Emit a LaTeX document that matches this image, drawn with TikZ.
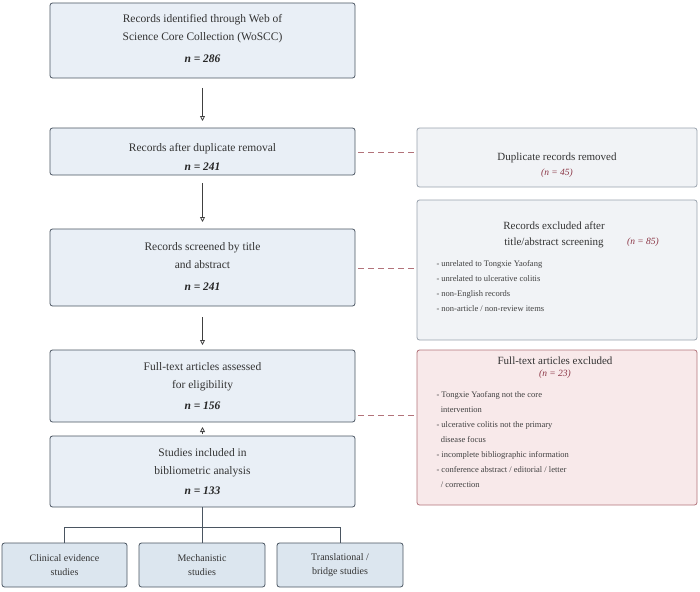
\documentclass[tikz,border=0pt]{standalone}
\usepackage{fontspec}
\setmainfont{Liberation Serif}
\usetikzlibrary{arrows.meta}
\definecolor{mfill}{HTML}{E9EFF6}
\definecolor{mdraw}{HTML}{4A5561}
\definecolor{gfill}{HTML}{F1F3F6}
\definecolor{gdraw}{HTML}{99A2AD}
\definecolor{rfill}{HTML}{F8E9EA}
\definecolor{rdraw}{HTML}{B2737A}
\definecolor{nred}{HTML}{8A3444}
\definecolor{bfill}{HTML}{DCE6EF}
\begin{document}
\begin{tikzpicture}[x=1pt,y=-1pt,
  box/.style={draw=#1,rounded corners=2.5pt,line width=0.8pt},
  main/.style={fill=mfill,box=mdraw},
  txt/.style={align=center,font=\fontsize{11.5}{18}\selectfont,text=black!80},
  lst/.style={align=left,font=\fontsize{8.5}{15}\selectfont,text=black!75,anchor=north west},
  nn/.style={font=\fontsize{11.5}{13}\selectfont\bfseries\itshape,text=black!85},
  rn/.style={font=\fontsize{9.5}{11}\selectfont\itshape,text=nred},
  arr/.style={line width=0.8pt,draw=black!75,-{Triangle[open,length=5pt,width=5pt]}},
  dashcon/.style={draw=rdraw,dash pattern=on 6pt off 4pt,line width=0.8pt},
  tree/.style={draw=mdraw,line width=0.8pt}]
\useasboundingbox (0,0) rectangle (700,591);
% main boxes
\draw[main] (50,3) rectangle (355,78);
\draw[main] (50,128) rectangle (355,175);
\draw[main] (50,229) rectangle (355,306);
\draw[main] (50,350) rectangle (355,422);
\draw[main] (50,436) rectangle (355,507);
\node[txt] (t1) at (202.5,29) {Records identified through Web of\\Science Core Collection (WoSCC)};
\node[nn] (n1) at (202.5,59) {n = 286};
\node[txt] (t2) at (202.5,149) {Records after duplicate removal};
\node[nn] (n2) at (202.5,167) {n = 241};
\node[txt] (t3) at (202.5,256) {Records screened by title\\and abstract};
\node[nn] (n3) at (202.5,287) {n = 241};
\node[txt] (t4) at (202.5,377) {Full-text articles assessed\\for eligibility};
\node[nn] (n4) at (202.5,406) {n = 156};
\node[txt] (t5) at (202.5,463) {Studies included in\\bibliometric analysis};
\node[nn] (n5) at (202.5,491) {n = 133};
\coordinate (a1) at (202.5,88); \coordinate (b1) at (202.5,121);
\coordinate (a2) at (202.5,183); \coordinate (b2) at (202.5,222);
\coordinate (a3) at (202.5,317); \coordinate (b3) at (202.5,345);
\coordinate (a4) at (202.5,434); \coordinate (b4) at (202.5,427);
\draw[arr] (a1) -- (b1);
\draw[arr] (a2) -- (b2);
\draw[arr] (a3) -- (b3);
\draw[arr] (a4) -- (b4);
% bottom
\draw[fill=bfill,box=mdraw] (2,543) rectangle (127,587);
\draw[fill=bfill,box=mdraw] (139,543) rectangle (265,587);
\draw[fill=bfill,box=mdraw] (277,543) rectangle (403,587);
\node[txt,font=\fontsize{10}{14}\selectfont] (c1) at (64.5,565) {Clinical evidence\\studies};
\node[txt,font=\fontsize{10}{14}\selectfont] (c2) at (202,565) {Mechanistic\\studies};
\node[txt,font=\fontsize{10}{14}\selectfont] (c3) at (340,565) {Translational /\\bridge studies};
\coordinate (s) at (202.5,507); \coordinate (j) at (202.5,527);
\coordinate (l) at (64.5,527); \coordinate (r) at (340,527);
\coordinate (le) at (64.5,543); \coordinate (me) at (202.5,543); \coordinate (re) at (340,543);
\draw[tree] (s) -- (j); \draw[tree] (le) -- (l) -- (r) -- (re); \draw[tree] (j) -- (me);
% right boxes
\draw[fill=gfill,box=gdraw] (417,128) rectangle (697,187);
\draw[fill=gfill,box=gdraw] (417,200) rectangle (697,340);
\draw[fill=rfill,box=rdraw] (417,350) rectangle (697,505);
\node[txt,font=\fontsize{11}{14}\selectfont] (r1) at (557,158) {Duplicate records removed};
\node[rn] (rn1) at (557,173) {(n = 45)};
\node[txt,font=\fontsize{11}{16}\selectfont] (r2) at (554,235) {Records excluded after\\title/abstract screening};
\node[rn] (rn2) at (643,242) {(n = 85)};
\node[lst] (l2) at (433,257) {- unrelated to Tongxie Yaofang\\- unrelated to ulcerative colitis\\- non-English records\\- non-article / non-review items};
\node[txt,font=\fontsize{11}{14}\selectfont] (r3) at (555,361) {Full-text articles excluded};
\node[rn] (rn3) at (555,374) {(n = 23)};
\node[lst] (l3) at (433,388) {- Tongxie Yaofang not the core\\\ \ intervention\\- ulcerative colitis not the primary\\\ \ disease focus\\- incomplete bibliographic information\\- conference abstract / editorial / letter\\\ \ / correction};
\coordinate (d1) at (358,152); \coordinate (e1) at (417,152);
\coordinate (d2) at (358,268); \coordinate (e2) at (417,268);
\coordinate (d3) at (358,415); \coordinate (e3) at (417,415);
\draw[dashcon] (d1) -- (e1); \draw[dashcon] (d2) -- (e2); \draw[dashcon] (d3) -- (e3);
\end{tikzpicture}
\end{document}
